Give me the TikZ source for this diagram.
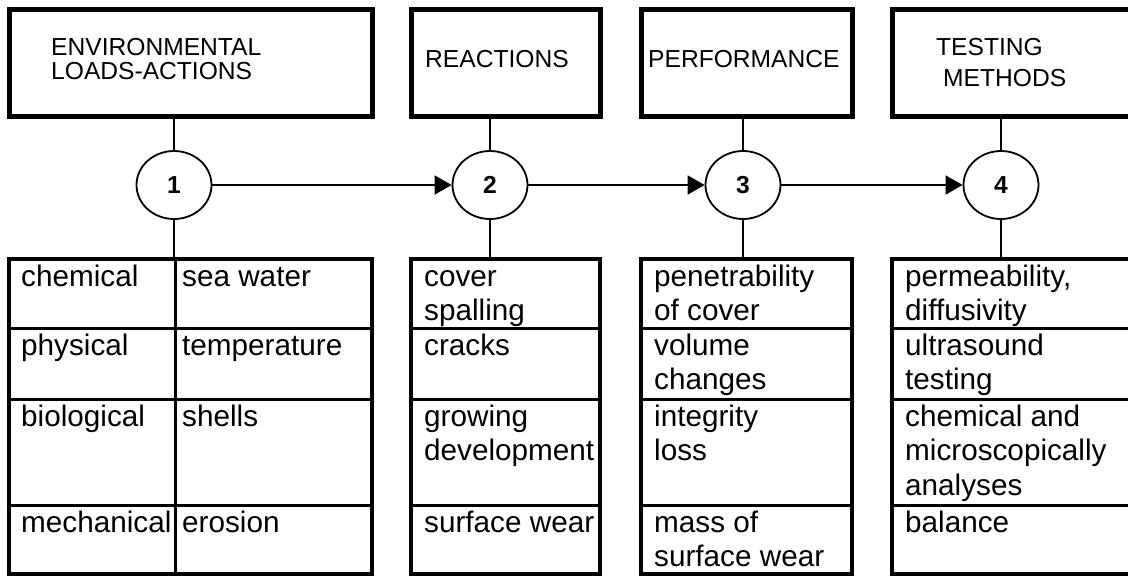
\documentclass[tikz,border=0pt]{standalone}
\usepackage{fontspec}
\setmainfont{Liberation Sans}
\usetikzlibrary{arrows.meta}
\usetikzlibrary{shapes.geometric}
\usetikzlibrary{calc}

\newcommand{\lines}[1]{\begin{tabular}[t]{@{}l@{}}#1\end{tabular}}

\tikzset{
    headbox/.style={draw,line width=5pt,minimum height=107pt,inner sep=0pt},
    headtext/.style={anchor=base west,inner sep=0pt},
    stage/.style={draw,ellipse,line width=1.8pt,minimum width=75pt,minimum height=68pt,inner sep=0pt,font=\bfseries\fontsize{24.6}{24}\selectfont},
    tablebox/.style={draw,line width=4.5pt,inner sep=0pt},
    celltext/.style={anchor=base west,inner sep=0pt,font=\fontsize{29.7}{34.3}\selectfont},
    rowline/.style={line width=3pt},
    link/.style={line width=1.8pt},
}

\begin{document}
\begin{tikzpicture}[x=1pt,y=-1pt]
    	\useasboundingbox (0,0) rectangle (1128,576);
    	\clip (0,0) rectangle (1128,576);

    	% top boxes
    	\node[headbox,minimum width=363pt] (b1) at (190.5,62.5) {};
    	\node[headbox,minimum width=189pt] (b2) at (505.5,62.5) {};
    	\node[headbox,minimum width=211pt] (b3) at (746.5,62.5) {};
    	\node[headbox,minimum width=248pt] (b4) at (1016,62.5) {};

    	\node[headtext,font=\fontsize{24.6}{23}\selectfont] (h1) at (51,55) {\lines{ENVIRONMENTAL\\LOADS-ACTIONS}};
    	\node[headtext,font=\fontsize{24.6}{24}\selectfont] (h2) at (425,67) {REACTIONS};
    	\node[headtext,font=\fontsize{24.6}{24}\selectfont] (h3) at (648,67) {PERFORMANCE};
    	\node[headtext,font=\fontsize{24.6}{31}\selectfont] (h4) at (936,55) {\lines{TESTING\\\hspace*{7pt}METHODS}};

    	% stages
    	\node[stage] (c1) at (174,185) {1};
    	\node[stage] (c2) at (490,185) {2};
    	\node[stage] (c3) at (743,185) {3};
    	\node[stage] (c4) at (1001,185) {4};

    	% tables
    	\node[tablebox,minimum width=363pt,minimum height=315pt] (t1) at (190.5,416.5) {};
    	\node[tablebox,minimum width=189pt,minimum height=315pt] (t2) at (505.5,416.5) {};
    	\node[tablebox,minimum width=211pt,minimum height=315pt] (t3) at (746.5,416.5) {};
    	\node[tablebox,minimum width=248pt,minimum height=315pt] (t4) at (1016,416.5) {};

    	\foreach \r in {328,399,505} {
    		\foreach \t in {t1,t2,t3,t4}
    			\draw[rowline] (\t.west |- 0,\r) -- (\t.east |- 0,\r);
    	}
    	\draw[rowline] (t1.north -| 175,0) -- (t1.south -| 175,0);

    	% links
    	\foreach \i in {1,2,3,4} {
    		\draw[link] (b\i.south -| c\i) -- (c\i);
    		\draw[link] (c\i) -- (c\i |- t\i.north);
    	}
    	\draw[link,-{Triangle[length=17pt,width=19pt]}] (c1) -- (c2);
    	\draw[link,-{Triangle[length=17pt,width=19pt]}] (c2) -- (c3);
    	\draw[link,-{Triangle[length=17pt,width=19pt]}] (c3) -- (c4);

    	% cell texts
    	\node[celltext] (a1) at (21,286.5) {chemical};
    	\node[celltext] (a2) at (21,355.5) {physical};
    	\node[celltext] (a3) at (21,426.5) {biological};
    	\node[celltext] (a4) at (21,532.5) {mechanical};
    	\node[celltext] (s1) at (182,286.5) {sea water};
    	\node[celltext] (s2) at (182,355.5) {temperature};
    	\node[celltext] (s3) at (182,426.5) {shells};
    	\node[celltext] (s4) at (182,532.5) {erosion};

    	\node[celltext] (r1) at (424,286.5) {\lines{cover\\spalling}};
    	\node[celltext] (r2) at (424,355.5) {cracks};
    	\node[celltext] (r3) at (424,426.5) {\lines{growing\\development}};
    	\node[celltext] (r4) at (424,532.5) {surface wear};

    	\node[celltext] (p1) at (654,286.5) {\lines{penetrability\\of cover}};
    	\node[celltext] (p2) at (654,355.5) {\lines{volume\\changes}};
    	\node[celltext] (p3) at (654,426.5) {\lines{integrity\\loss}};
    	\node[celltext] (p4) at (654,532.5) {\lines{mass of\\surface wear}};

    	\node[celltext] (m1) at (905,286.5) {\lines{permeability,\\diffusivity}};
    	\node[celltext] (m2) at (905,355.5) {\lines{ultrasound\\testing}};
    	\node[celltext] (m3) at (905,426.5) {\lines{chemical and\\microscopically\\analyses}};
    	\node[celltext] (m4) at (905,532.5) {balance};
    \end{tikzpicture}
\end{document}
